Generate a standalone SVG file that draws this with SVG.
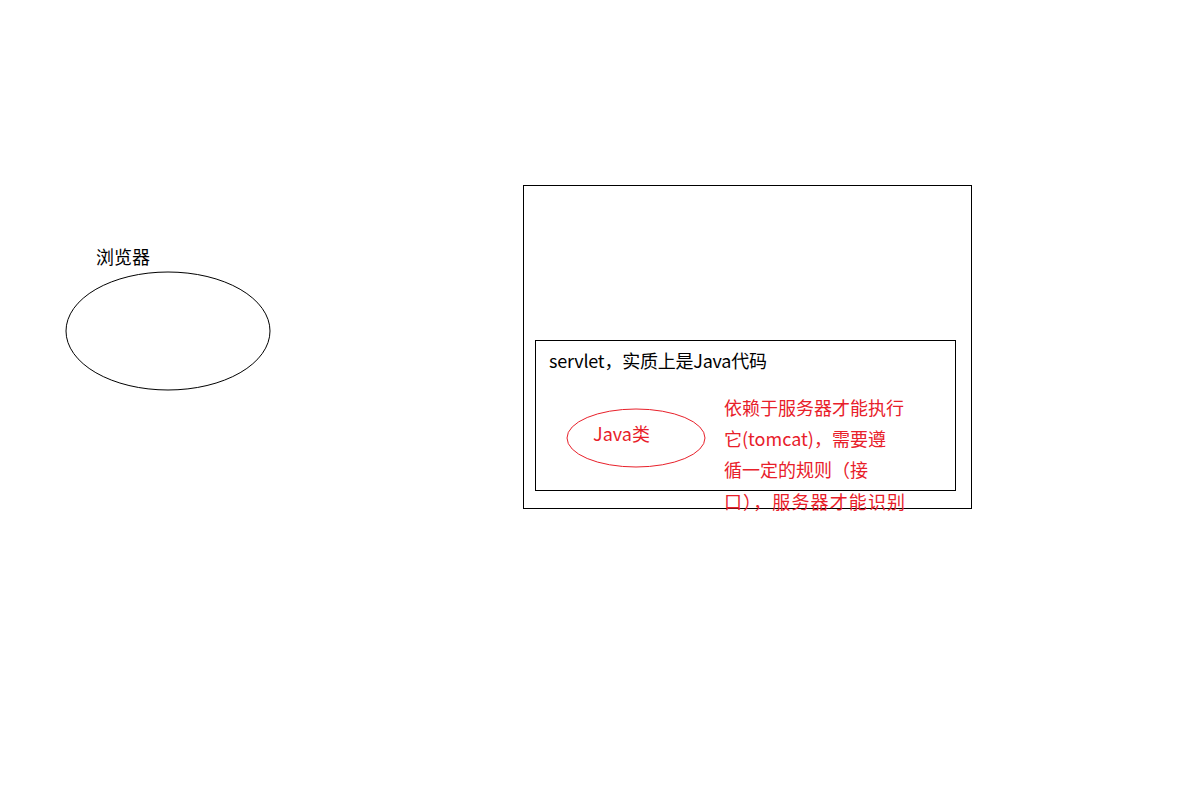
<svg xmlns="http://www.w3.org/2000/svg" width="1182" height="804" viewBox="0 0 1182 804">
<style>
.t{font-family:"Noto Sans CJK SC","Noto Sans",sans-serif;font-size:18px;fill:#000}
.r{fill:#e8202a}
.s{fill:none;stroke:#000;stroke-width:1}
.rs{fill:none;stroke:#e8202a;stroke-width:1}
</style>
<rect width="1182" height="804" fill="#fff"/>
<g id="browser">
<ellipse class="s" cx="168" cy="331" rx="102" ry="59"/>
<text class="t" x="96" y="264">浏览器</text>
</g>
<g id="server">
<rect class="s" x="523.5" y="185.5" width="448" height="323"/>
</g>
<g id="servlet">
<rect class="s" x="535.5" y="340.5" width="420" height="150"/>
<text class="t" x="549" y="368" textLength="218">servlet，实质上是Java代码</text>
</g>
<g id="javaclass">
<ellipse class="rs" cx="636" cy="438" rx="69" ry="29"/>
<text class="t r" x="593" y="441">Java类</text>
</g>
<g id="note">
<text class="t r" x="724" y="415">依赖于服务器才能执行</text>
<text class="t r" x="724" y="446">它(tomcat)，需要遵</text>
<text class="t r" x="724" y="477">循一定的规则（接</text>
<text class="t r" x="724" y="509" textLength="181">口），服务器才能识别</text>
</g>
<g id="connectors"></g>
</svg>
